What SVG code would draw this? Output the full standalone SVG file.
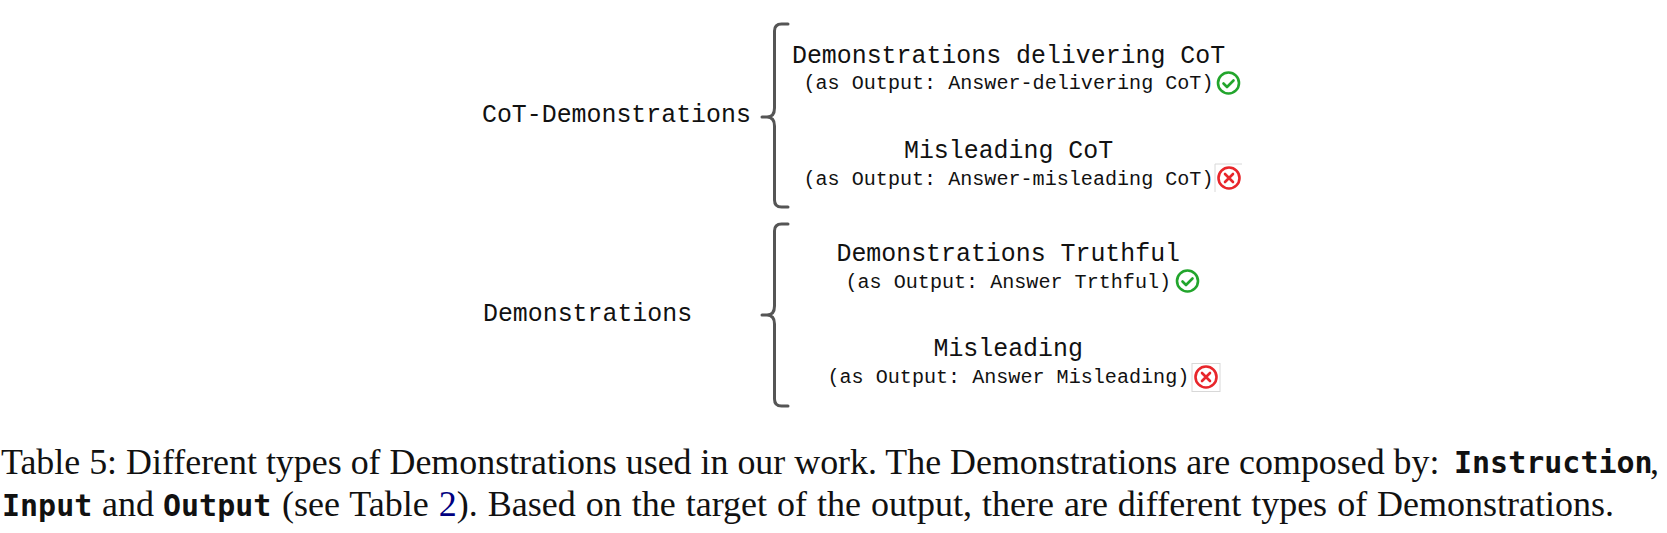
<svg xmlns="http://www.w3.org/2000/svg" width="1667" height="533" viewBox="0 0 1667 533">
<style>
.h{font:24.9px "Liberation Mono",monospace;fill:#111}
.s{font:20.1px "Liberation Mono",monospace;fill:#111}
.b{fill:none;stroke:#555;stroke-width:3;stroke-linecap:round}
.c{font:36px "Liberation Serif",serif;fill:#111}
.m{font:bold 30px "DejaVu Sans Mono",monospace;fill:#111}
.ok{fill:none;stroke:#22a52c;stroke-width:2.600;stroke-linecap:round;stroke-linejoin:round}
.no{fill:none;stroke:#e8262b;stroke-width:2.600;stroke-linecap:round}
.f{fill:none;stroke:#d8d8d8;stroke-width:1}
</style>
<defs>
<g id="check"><circle class="ok" r="10.500"/><path class="ok" d="M-5 0.500L-1.500 4L5-2.500"/></g>
<g id="cross"><circle class="no" r="10.500"/><path class="no" d="M-4-4L4 4M4-4L-4 4"/></g>
</defs>
<g id="connectors">
<path class="b" d="M788 24H781.500Q774.500 24 774.500 31V108Q774.500 117 767 117H762M767 117Q774.500 117 774.500 126V200Q774.500 207 781.500 207H788"/>
<path class="b" d="M788 224H781.500Q774.500 224 774.500 231V306Q774.500 315 767 315H762M767 315Q774.500 315 774.500 324V399Q774.500 406 781.500 406H788"/>
</g>
<g id="node-cot"><text class="h" x="482" y="122">CoT-Demonstrations</text></g>
<g id="node-dem"><text class="h" x="483" y="321">Demonstrations</text></g>
<g id="node-delivering"><text class="h" x="792" y="62.500">Demonstrations delivering CoT</text><text class="s" x="803.500" y="89">(as Output: Answer-delivering CoT)</text><use href="#check" x="1228.500" y="83"/></g>
<g id="node-misleading-cot"><text class="h" x="904" y="158">Misleading CoT</text><text class="s" x="803.500" y="184.500">(as Output: Answer-misleading CoT)</text><path class="f" d="M1215 192V164H1242"/><use href="#cross" x="1229" y="178"/></g>
<g id="node-truthful"><text class="h" x="836.500" y="260.500">Demonstrations Truthful</text><text class="s" x="845.500" y="287.500">(as Output: Answer Trthful)</text><use href="#check" x="1187.500" y="281"/></g>
<g id="node-misleading"><text class="h" x="933.500" y="356">Misleading</text><text class="s" x="827.500" y="383">(as Output: Answer Misleading)</text><rect class="f" x="1192" y="363.500" width="28" height="28"/><use href="#cross" x="1206" y="377"/></g>
<g id="caption">
<text class="c" x="1" y="474" style="font-size:35.900px">Table 5: Different types of Demonstrations used in our work. The Demonstrations are composed by:</text>
<text class="m" x="1454" y="473">Instruction</text><text class="c" x="1650" y="474">,</text>
<text class="m" x="2" y="516">Input</text><text class="c" x="102" y="516">and</text><text class="m" x="163" y="516">Output</text>
<text class="c" x="282" y="516" style="word-spacing:1px">(see Table <tspan fill="#000080">2</tspan>). Based on the target of the output, there are different types of Demonstrations.</text>
</g>
</svg>
